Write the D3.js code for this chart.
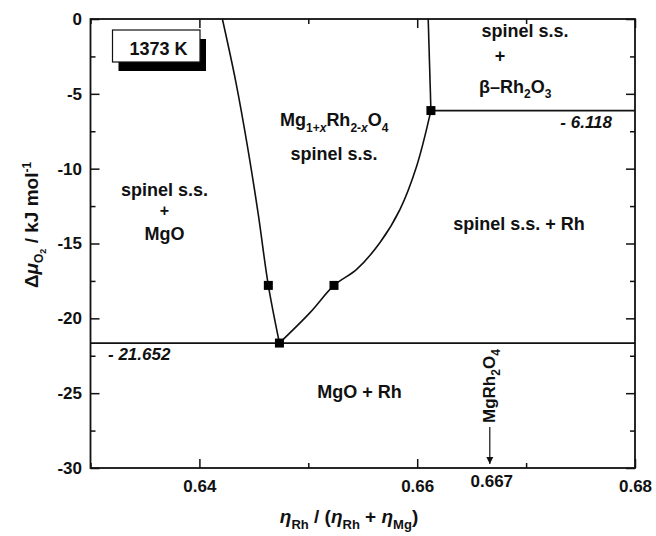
<!DOCTYPE html>
<html>
<head>
<meta charset="utf-8">
<script src="https://cdn.jsdelivr.net/npm/d3@7"></script>
<style>
  html, body { margin: 0; padding: 0; background: #fff; }
  svg { display: block; }
  text { font-family: "Liberation Sans", Arial, Helvetica, sans-serif; font-weight: bold; fill: #111; }
</style>
</head>
<body>
<svg id="chart" width="656" height="536"></svg>
<script>
// ---------------- data ----------------
const xDomain = [0.63, 0.68];
const yDomain = [-30, 0];
const xMajorTicks = [0.64, 0.66, 0.68];
const xMajorLabels = ["0.64", "0.66", "0.68"];
const xMinorTicks = [0.63, 0.65, 0.67];
const yMajorTicks = [0, -5, -10, -15, -20, -25, -30];
const yMajorLabels = ["0", "-5", "-10", "-15", "-20", "-25", "-30"];
const yMinorTicks = [-2.5, -7.5, -12.5, -17.5, -22.5, -27.5];

// phase boundary: spinel s.s. / (spinel s.s. + MgO)
const leftBoundary = [
  [0.64211, 0], [0.64334, -4.18], [0.64444, -8.62],
  [0.64541, -13.07], [0.64633, -17.8], [0.64735, -21.652]
];
// phase boundary: spinel s.s. / (spinel s.s. + beta-Rh2O3)
const rightBoundaryUpper = [[0.66101, 0], [0.66126, -6.118]];
// phase boundary: spinel s.s. / (spinel s.s. + Rh)
const rightBoundaryLower = [
  [0.66126, -6.118], [0.65994, -9.85], [0.65841, -12.73], [0.65657, -14.95],
  [0.65444, -16.73], [0.65236, -17.8], [0.65016, -19.62], [0.64735, -21.652]
];
// measured points
const squarePoints = [
  [0.66126, -6.118], [0.64633, -17.8], [0.65236, -17.8], [0.64735, -21.652]
];
// three-phase lines
const tripleLineY = [-21.652, -6.118];
const tripleLineX0 = [0.63, 0.66126];
const tripleLineX1 = [0.68, 0.68];
const tripleLineLabels = ["- 21.652", "- 6.118"];
// stoichiometric composition MgRh2O4
const stoichX = 2 / 3;
const stoichLabel = "0.667";

// ---------------- layout ----------------
const svg = d3.select("#chart");
const L = 90.5, R = 635, T = 19, B = 468;
const x = d3.scaleLinear().domain(xDomain).range([L, R]);
const y = d3.scaleLinear().domain(yDomain).range([B, T]);
const FS = 17;

// ---------------- axes ----------------
function styleAxis(g) {
  g.select(".domain").remove();
  g.selectAll(".tick line").attr("stroke", "#111").attr("stroke-width", 1.5);
  g.selectAll(".tick text").attr("font-size", FS).attr("font-family", null).attr("fill", "#111");
}
// bottom
svg.append("g").attr("transform", `translate(0,${B})`)
  .call(d3.axisBottom(x).tickValues(xMajorTicks).tickSize(-9).tickSizeOuter(0).tickPadding(12)
    .tickFormat((d, i) => xMajorLabels[i])).call(styleAxis);
svg.append("g").attr("transform", `translate(0,${B})`)
  .call(d3.axisBottom(x).tickValues(xMinorTicks).tickSize(-5).tickSizeOuter(0).tickFormat("")).call(styleAxis);
// top
svg.append("g").attr("transform", `translate(0,${T})`)
  .call(d3.axisTop(x).tickValues(xMajorTicks).tickSize(-9).tickSizeOuter(0).tickFormat("")).call(styleAxis);
svg.append("g").attr("transform", `translate(0,${T})`)
  .call(d3.axisTop(x).tickValues(xMinorTicks).tickSize(-5).tickSizeOuter(0).tickFormat("")).call(styleAxis);
// left
svg.append("g").attr("transform", `translate(${L},0)`)
  .call(d3.axisLeft(y).tickValues(yMajorTicks).tickSize(-9).tickSizeOuter(0).tickPadding(8.5)
    .tickFormat((d, i) => yMajorLabels[i])).call(styleAxis);
svg.append("g").attr("transform", `translate(${L},0)`)
  .call(d3.axisLeft(y).tickValues(yMinorTicks).tickSize(-5).tickSizeOuter(0).tickFormat("")).call(styleAxis);
// right
svg.append("g").attr("transform", `translate(${R},0)`)
  .call(d3.axisRight(y).tickValues(yMajorTicks).tickSize(-9).tickSizeOuter(0).tickFormat("")).call(styleAxis);
svg.append("g").attr("transform", `translate(${R},0)`)
  .call(d3.axisRight(y).tickValues(yMinorTicks).tickSize(-5).tickSizeOuter(0).tickFormat("")).call(styleAxis);

// frame
svg.append("rect").attr("x", L).attr("y", T).attr("width", R - L).attr("height", B - T)
  .attr("fill", "none").attr("stroke", "#111").attr("stroke-width", 1.8);

// ---------------- lines ----------------
const line = d3.line().x(d => x(d[0])).y(d => y(d[1])).curve(d3.curveCatmullRom.alpha(0.5));
[leftBoundary, rightBoundaryUpper, rightBoundaryLower].forEach(pts => {
  svg.append("path").attr("d", line(pts)).attr("fill", "none")
    .attr("stroke", "#111").attr("stroke-width", 1.6);
});
tripleLineY.forEach((v, i) => {
  svg.append("line").attr("x1", x(tripleLineX0[i])).attr("x2", x(tripleLineX1[i]))
    .attr("y1", y(v)).attr("y2", y(v)).attr("stroke", "#111").attr("stroke-width", 1.8);
});
svg.selectAll("rect.pt").data(squarePoints).join("rect").attr("class", "pt")
  .attr("x", d => x(d[0]) - 4.5).attr("y", d => y(d[1]) - 4.5)
  .attr("width", 9).attr("height", 9).attr("fill", "#000");

// triple-line value labels
svg.append("text").attr("x", 108).attr("y", y(tripleLineY[0]) + 16.5)
  .attr("font-size", FS).attr("font-style", "italic").text(tripleLineLabels[0]);
svg.append("text").attr("x", 612).attr("y", y(tripleLineY[1]) + 17.5).attr("text-anchor", "end")
  .attr("font-size", FS).attr("font-style", "italic").text(tripleLineLabels[1]);

// stoichiometric marker
svg.append("defs").append("marker").attr("id", "arr").attr("viewBox", "0 0 10 10")
  .attr("refX", 10).attr("refY", 5).attr("markerWidth", 7).attr("markerHeight", 11)
  .attr("markerUnits", "userSpaceOnUse").attr("orient", "auto")
  .append("path").attr("d", "M0,0 L10,5 L0,10 Z").attr("fill", "#111");
svg.append("line").attr("x1", x(stoichX)).attr("x2", x(stoichX))
  .attr("y1", 427).attr("y2", 464).attr("stroke", "#111").attr("stroke-width", 1.2)
  .attr("marker-end", "url(#arr)");
const st = svg.append("text").attr("transform", `translate(${x(stoichX) + 5.5},423) rotate(-90)`)
  .attr("font-size", FS);
st.append("tspan").text("MgRh");
st.append("tspan").attr("font-size", 12).attr("dy", 5).text("2");
st.append("tspan").attr("dy", -5).text("O");
st.append("tspan").attr("font-size", 12).attr("dy", 5).text("4");
svg.append("text").attr("x", x(stoichX) + 2).attr("y", 487).attr("text-anchor", "middle")
  .attr("font-size", FS).text(stoichLabel);

// ---------------- temperature box ----------------
svg.append("rect").attr("x", 118.5).attr("y", 39).attr("width", 87.5).attr("height", 32).attr("fill", "#000");
svg.append("rect").attr("x", 112.5).attr("y", 30).attr("width", 87.5).attr("height", 32)
  .attr("fill", "#fff").attr("stroke", "#111").attr("stroke-width", 1.2);
svg.append("text").attr("x", 158.5).attr("y", 55).attr("text-anchor", "middle")
  .attr("font-size", 18).text("1373 K");

// ---------------- region labels ----------------
function label(xp, yp, txt, anchor, fs) {
  svg.append("text").attr("x", xp).attr("y", yp).attr("text-anchor", anchor || "middle")
    .attr("font-size", fs || 18).text(txt);
}
label(164.5, 195.5, "spinel s.s.");
label(164.5, 216, "+", "middle", 16);
label(164.5, 240, "MgO");
label(525, 37, "spinel s.s.");
label(500, 62, "+");
const br = svg.append("text").attr("x", 479).attr("y", 93).attr("font-size", 18);
br.append("tspan").text("β–Rh");
br.append("tspan").attr("font-size", 12).attr("dy", 5).text("2");
br.append("tspan").attr("dy", -5).text("O");
br.append("tspan").attr("font-size", 12).attr("dy", 5).text("3");
const sp = svg.append("text").attr("x", 280).attr("y", 126).attr("font-size", 18);
sp.append("tspan").text("Mg");
sp.append("tspan").attr("font-size", 12).attr("dy", 6).text("1+");
sp.append("tspan").attr("font-size", 12).attr("font-style", "italic").text("x");
sp.append("tspan").attr("dy", -6).text("Rh");
sp.append("tspan").attr("font-size", 12).attr("dy", 6).text("2-");
sp.append("tspan").attr("font-size", 12).attr("font-style", "italic").text("x");
sp.append("tspan").attr("dy", -6).text("O");
sp.append("tspan").attr("font-size", 12).attr("dy", 6).text("4");
label(334, 160, "spinel s.s.");
label(519, 229.5, "spinel s.s. + Rh");
label(359.5, 398, "MgO + Rh");

// ---------------- axis titles ----------------
const xt = svg.append("text").attr("x", 349).attr("y", 523).attr("text-anchor", "middle").attr("font-size", 19);
xt.append("tspan").attr("font-style", "italic").text("η");
xt.append("tspan").attr("font-size", 13).attr("dy", 6).text("Rh");
xt.append("tspan").attr("dy", -6).text(" / (");
xt.append("tspan").attr("font-style", "italic").text("η");
xt.append("tspan").attr("font-size", 13).attr("dy", 6).text("Rh");
xt.append("tspan").attr("dy", -6).text(" + ");
xt.append("tspan").attr("font-style", "italic").text("η");
xt.append("tspan").attr("font-size", 13).attr("dy", 6).text("Mg");
xt.append("tspan").attr("dy", -6).text(")");

const yt = svg.append("text").attr("transform", "translate(38,225) rotate(-90)")
  .attr("text-anchor", "middle").attr("font-size", 19);
yt.append("tspan").text("Δ");
yt.append("tspan").attr("font-style", "italic").text("μ");
yt.append("tspan").attr("font-size", 12).attr("dy", 5).text("O");
yt.append("tspan").attr("font-size", 9).attr("dy", 3).text("2");
yt.append("tspan").attr("dy", -8).text(" / kJ mol");
yt.append("tspan").attr("font-size", 12).attr("dy", -7).text("-1");
</script>
</body>
</html>
